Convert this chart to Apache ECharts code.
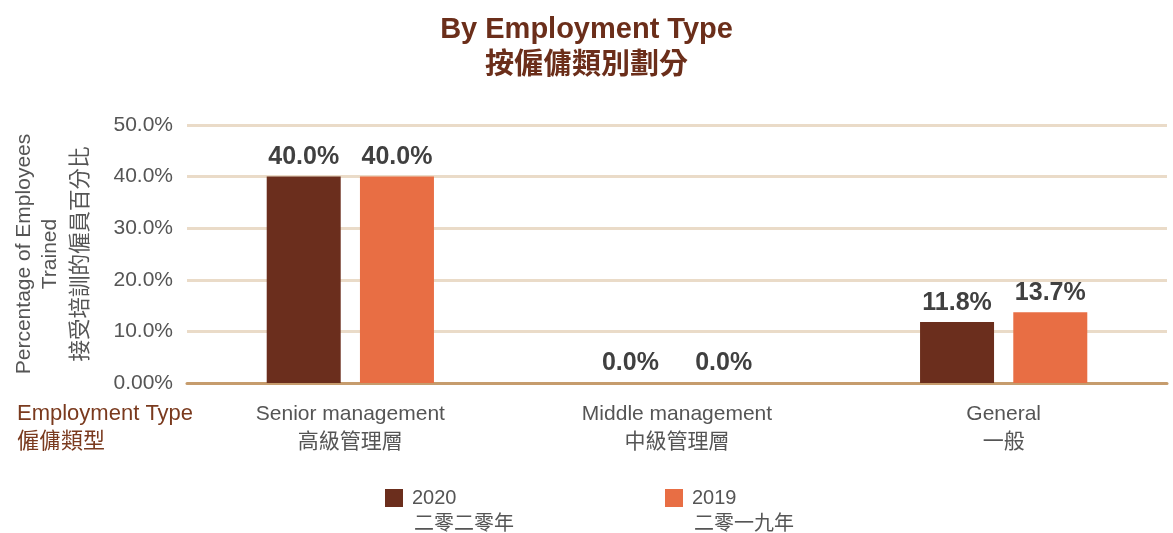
<!DOCTYPE html>
<html><head><meta charset="utf-8">
<script src="https://cdn.jsdelivr.net/npm/echarts@6/dist/echarts.min.js"></script>
<style>html,body{margin:0;padding:0;background:#fff}#c{width:1173px;height:533px}</style>
</head><body><div id="c"></div>
<script>
const categories = ['Senior management\n高級管理層', 'Middle management\n中級管理層', 'General\n一般'];
const values2020 = [40.0, 0.0, 11.8];
const values2019 = [40.0, 0.0, 13.7];
const seriesNames = ['2020', '2019'];
const seriesNamesZh = ['二零二零年', '二零一九年'];
const yTicks = [0, 10, 20, 30, 40, 50];

const FONT = '"Liberation Sans", "Noto Sans CJK TC", sans-serif';
const BROWN = '#6B2E1D';
const ORANGE = '#E86E44';
const TITLE = '#6B2E1A';
const GREY = '#555';

const chart = echarts.init(document.getElementById('c'));
chart.setOption({
  animation: false,
  textStyle: { fontFamily: FONT },
  title: {
    text: 'By Employment Type\n按僱傭類別劃分',
    left: 'center', top: 7,
    textStyle: { color: TITLE, fontSize: 29, fontWeight: 'bold', lineHeight: 36, fontFamily: FONT }
  },
  grid: { left: 187, right: 6, top: 125, bottom: 150 },
  legend: [
    { data: [seriesNames[0]], left: 385, top: 488, padding: 0, itemWidth: 18, itemHeight: 18, itemGap: 0, icon: 'rect',
      textStyle: { color: GREY, fontSize: 20, fontFamily: FONT, padding: [0, 0, 0, 4] } },
    { data: [seriesNames[1]], left: 665, top: 488, padding: 0, itemWidth: 18, itemHeight: 18, itemGap: 0, icon: 'rect',
      textStyle: { color: GREY, fontSize: 20, fontFamily: FONT, padding: [0, 0, 0, 4] } }
  ],
  xAxis: {
    type: 'category', data: categories,
    axisLine: { lineStyle: { color: '#C69C6D', width: 3 } },
    axisTick: { show: false },
    axisLabel: { color: GREY, fontSize: 21, lineHeight: 28, margin: 17, fontFamily: FONT }
  },
  yAxis: {
    type: 'value', min: 0, max: 50, interval: 10,
    name: '{e|Percentage of Employees}\n{e|Trained}\n{c|接受培訓的僱員百分比}',
    nameLocation: 'middle', nameRotate: 90, nameGap: 88,
    nameTextStyle: {
      color: GREY, fontFamily: FONT,
      rich: { e: { fontSize: 21, lineHeight: 26, color: GREY, fontFamily: FONT },
              c: { fontSize: 21.5, lineHeight: 36, color: GREY, fontFamily: FONT } }
    },
    axisLine: { show: false }, axisTick: { show: false },
    axisLabel: { color: GREY, fontSize: 21, margin: 14, fontFamily: FONT,
      formatter: v => v === 0 ? '0.00%' : v.toFixed(1) + '%' },
    splitLine: { lineStyle: { color: '#EADBC8', width: 3 } }
  },
  series: [
    { name: seriesNames[0], type: 'bar', data: values2020, barWidth: 74, barGap: '26%',
      itemStyle: { color: BROWN },
      label: { show: true, position: 'top', distance: 7, formatter: p => p.value.toFixed(1) + '%',
        color: '#404040', fontSize: 25, fontWeight: 'bold', fontFamily: FONT } },
    { name: seriesNames[1], type: 'bar', data: values2019, barWidth: 74,
      itemStyle: { color: ORANGE },
      label: { show: true, position: 'top', distance: 7, formatter: p => p.value.toFixed(1) + '%',
        color: '#404040', fontSize: 25, fontWeight: 'bold', fontFamily: FONT } }
  ],
  graphic: [
    { type: 'text', left: 17, top: 400, style: { text: 'Employment Type\n僱傭類型', fill: '#7A3A1E', fontSize: 22, lineHeight: 28, fontFamily: FONT } },
    { type: 'text', left: 414, top: 514, style: { text: seriesNamesZh[0], fill: GREY, fontSize: 20, fontFamily: FONT } },
    { type: 'text', left: 694, top: 514, style: { text: seriesNamesZh[1], fill: GREY, fontSize: 20, fontFamily: FONT } }
  ]
});
</script></body></html>
